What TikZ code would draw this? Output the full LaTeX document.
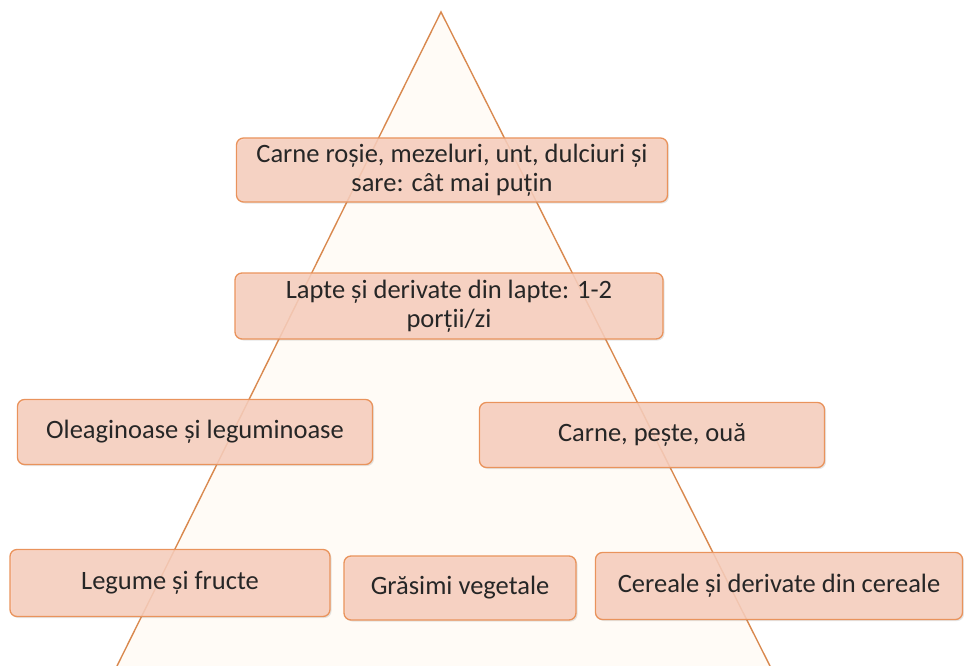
\documentclass[tikz,border=0pt]{standalone}
\usepackage{fontspec}
\setmainfont{Carlito}
\usetikzlibrary{shadows}
\definecolor{boxfill}{HTML}{F9CFBE}
\definecolor{boxline}{HTML}{E9935C}
\definecolor{pyrline}{HTML}{D9894F}
\definecolor{pyrfill}{HTML}{FFFBF6}
\tikzstyle{level} = [rectangle, rounded corners=7pt, line width=1.3pt, draw=boxline, fill=boxfill, fill opacity=0.85, text opacity=1, text=black!85, align=center, font=\fontsize{26.5}{29}\selectfont, drop shadow={shadow xshift=1.5pt, shadow yshift=-1.5pt, opacity=0.2}]

\begin{document}
\begin{tikzpicture}[x=1pt,y=1pt]
\useasboundingbox (0,0) rectangle (964,-666);
\coordinate (apex) at (441,-12);
\coordinate (baseL) at (117,-666);
\coordinate (baseR) at (770,-666);
\draw [pyrline, fill=pyrfill, line width=1.4pt] (baseL) -- (apex) -- (baseR);
\node (sweets) [level, minimum width=431pt, minimum height=64pt] at (452,-170) {Carne roșie, mezeluri, unt, dulciuri și\\sare: cât mai puțin};
\node (milk) [level, minimum width=428pt, minimum height=66pt] at (449,-306) {Lapte și derivate din lapte: 1-2\\porții/zi};
\node (seeds) [level, minimum width=355pt, minimum height=65pt] at (195,-432) {Oleaginoase și leguminoase};
\node (meat) [level, minimum width=345pt, minimum height=65pt] at (652,-435) {Carne, pește, ouă};
\node (veg) [level, minimum width=320pt, minimum height=67pt] at (170,-583) {Legume și fructe};
\node (fats) [level, minimum width=232pt, minimum height=64pt] at (460,-588) {Grăsimi vegetale};
\node (cereal) [level, minimum width=367pt, minimum height=67pt] at (779,-586) {Cereale și derivate din cereale};
\end{tikzpicture}
\end{document}
